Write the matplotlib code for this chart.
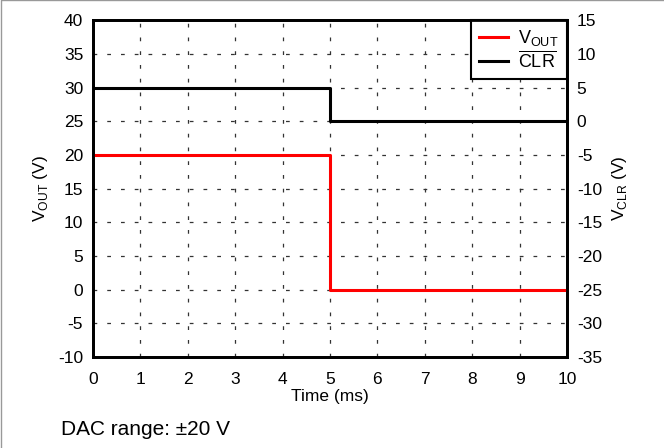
import matplotlib
matplotlib.use("Agg")
import matplotlib.pyplot as plt
import numpy as np

plt.rcParams['font.family'] = ['Liberation Sans', 'DejaVu Sans']
plt.rcParams['axes.unicode_minus'] = False

# data
time_ms = [0, 5, 5, 10]
vout = [20, 20, 0, 0]
vclr = [5, 5, 0, 0]

fig = plt.figure(figsize=(6.64, 4.48), dpi=100)
ax = fig.add_axes([0.140, 0.203, 0.714, 0.752])
ax2 = ax.twinx()

ax.plot(time_ms, vout, color='red', lw=2.2, label=r'V$_{\mathregular{OUT}}$', zorder=3)
ax2.plot(time_ms, vclr, color='black', lw=2.2, zorder=3)
# dummy for legend
ax.plot([], [], color='black', lw=2.2, label=r'$\overline{\mathregular{CLR}}$')

ax.set_xlim(0, 10)
ax.set_ylim(-10, 40)
ax2.set_ylim(-35, 15)
ax.set_xticks(np.arange(0, 11, 1))
ax.set_yticks(np.arange(-10, 41, 5))
ax2.set_yticks(np.arange(-35, 16, 5))

ax.grid(True, color='#333333', linestyle=(0, (3, 8)), lw=0.9)
for a in (ax, ax2):
    a.tick_params(direction='in', length=0, labelsize=12.5, pad=7)
    for s in a.spines.values():
        s.set_linewidth(2)
ax.tick_params(axis='x', pad=11)

ax.set_xlabel('Time (ms)', fontsize=12.5, labelpad=1)
ax.set_ylabel(r'V$_{\mathregular{OUT}}$ (V)', fontsize=12.5, labelpad=6)
ax2.set_ylabel(r'V$_{\mathregular{CLR}}$ (V)', fontsize=12.5, labelpad=6)

leg = ax.legend(loc='upper right', fontsize=13, fancybox=False, framealpha=1,
                edgecolor='black', borderaxespad=0, handlelength=1.6,
                handletextpad=0.6, labelspacing=0.1, borderpad=0.45)
leg.get_frame().set_linewidth(1.5)
leg.set_zorder(5)

fig.text(0.092, 0.03, 'DAC range: ±20 V', fontsize=15)

# light frame on the left and top edges of the picture
fig.add_artist(plt.Line2D([0.001, 0.001, 1], [0, 0.999, 0.999], color='#999999', lw=1,
                          transform=fig.transFigure))

fig.savefig('out.png', dpi=100)
